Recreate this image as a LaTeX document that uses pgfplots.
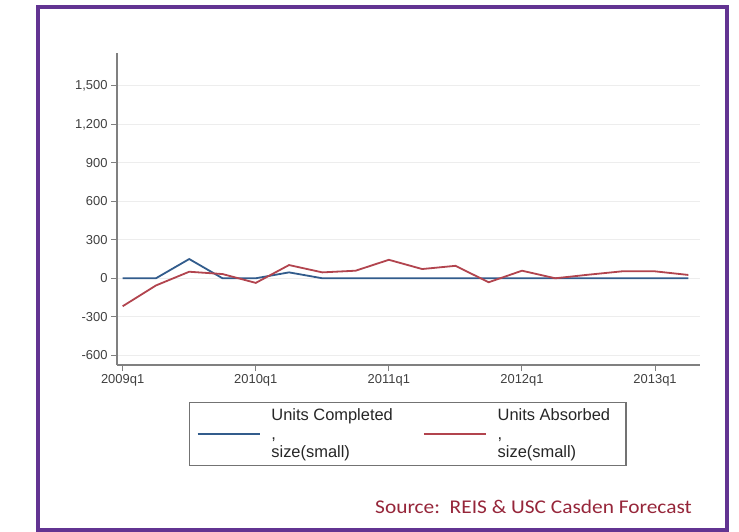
\documentclass[border=0pt]{standalone}
\usepackage{fontspec}
\setmainfont{Liberation Sans}
\newfontfamily\calibri{Carlito}
\usepackage{pgfplots}
\pgfplotsset{compat=1.18}
\definecolor{frame}{RGB}{98,52,146}
\definecolor{srcred}{RGB}{150,38,58}
\definecolor{sblue}{RGB}{50,92,140}
\definecolor{sred}{RGB}{178,68,78}
\begin{document}
\begin{tikzpicture}
\path[fill=white,use as bounding box] (0,0) rectangle (739bp,532bp);
\begin{axis}[
  at={(117bp,167bp)}, anchor=south west,
  scale only axis, width=583bp, height=312bp,
  xmin=-0.17, xmax=17.35, ymin=-676, ymax=1756,
  axis x line*=bottom, axis y line*=left,
  axis line style={black!50, line width=1.2bp},
  xtick={0,4,8,12,16}, xticklabels={2009q1,2010q1,2011q1,2012q1,2013q1},
  ytick={-600,-300,0,300,600,900,1200,1500},
  yticklabels={-600,-300,0,300,600,900,{1,200},{1,500}},
  tick align=outside, major tick length=6bp,
  tick style={black!50, line width=1bp},
  ticklabel style={font=\fontsize{13}{15}\selectfont, text=black!75},
  ymajorgrids, grid style={black!7, line width=1bp},
  legend columns=2,
  legend style={at={(0.1235,-0.1186)}, anchor=north west, draw=black!55, line width=1.2bp,
    inner xsep=7bp, inner ysep=4bp, font=\fontsize{16.5}{18.8}\selectfont, text=black!85,
    cells={anchor=west, align=left},
    /tikz/every odd column/.append style={column sep=9bp},
    /tikz/every even column/.append style={column sep=28bp}},
  legend image code/.code={\draw[#1] (0bp,0bp) -- (62bp,0bp);},
]
\addplot[sblue, line width=1.8bp] coordinates {
(0,0) (1,0) (2,150) (3,0) (4,0) (5,46) (6,0) (7,0) (8,0) (9,0) (10,0) (11,0) (12,0) (13,0) (14,0) (15,0) (16,0) (17,0)};
\addlegendentry{Units Completed\\,\\size(small)}
\addplot[sred, line width=1.8bp] coordinates {
(0,-218) (1,-56) (2,51) (3,33) (4,-36) (5,103) (6,46) (7,59) (8,144) (9,72) (10,97) (11,-31) (12,59) (13,0) (14,28) (15,54) (16,54) (17,26)};
\addlegendentry{Units Absorbed\hspace*{7bp}\\,\\size(small)}
\end{axis}
\node[anchor=west, text=srcred, font=\calibri\fontsize{19.5}{21}\selectfont, inner sep=0, xscale=1.1] at (375bp,25bp) {Source:\ \ REIS \& USC Casden Forecast};
\draw[frame, line width=4bp] (38bp,525bp) rectangle (727bp,1.5bp);
\end{tikzpicture}
\end{document}
